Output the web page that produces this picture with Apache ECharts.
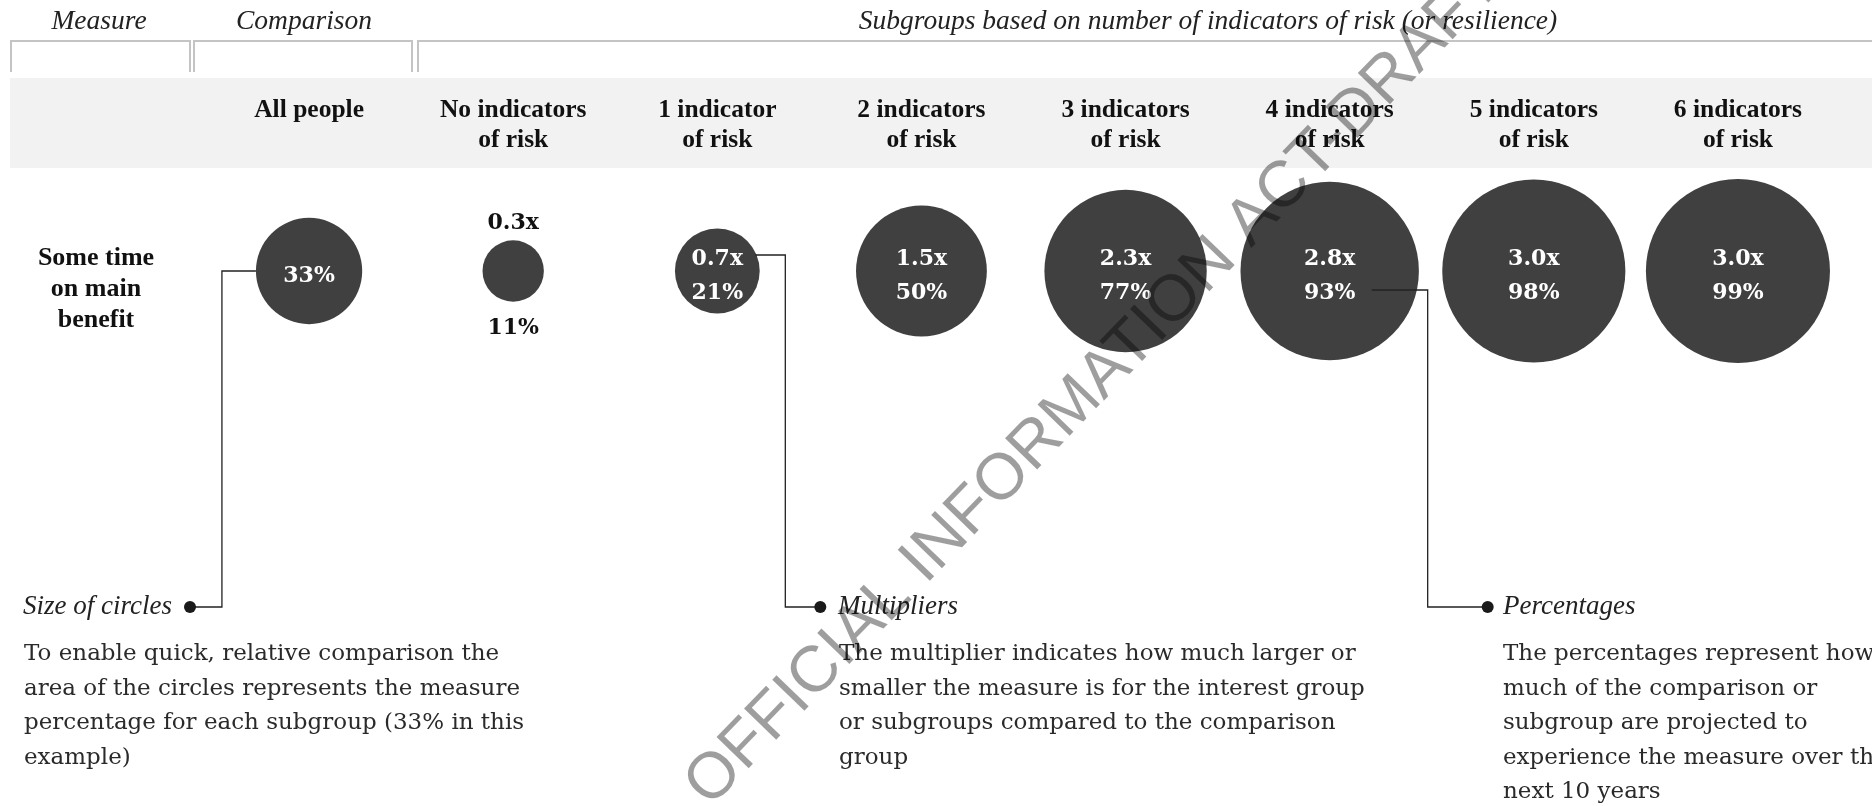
<!DOCTYPE html>
<html>
<head>
<meta charset="utf-8">
<title>Some time on main benefit</title>
<script src="https://cdn.jsdelivr.net/npm/echarts@6/dist/echarts.min.js"></script>
<style>
  html, body { margin: 0; padding: 0; background: #fff; }
  #chart { width: 1872px; height: 806px; }
</style>
</head>
<body>
<div id="chart"></div>
<script>
// comparison group first, then the subgroups
const groups = [
  "All people",
  "No indicators\nof risk",
  "1 indicator\nof risk",
  "2 indicators\nof risk",
  "3 indicators\nof risk",
  "4 indicators\nof risk",
  "5 indicators\nof risk",
  "6 indicators\nof risk"
];
const measures = ["Some time\non main\nbenefit"];
const percents = [33, 11, 21, 50, 77, 93, 98, 99];
const multipliers = [null, 0.3, 0.7, 1.5, 2.3, 2.8, 3.0, 3.0];

const SERIF = "'Liberation Serif', 'Times New Roman', serif";
const BODY = "'DejaVu Serif', serif";
const SLAB = "'DejaVu Serif', serif";
const K = 9.25; // radius per sqrt(percent), circle area ~ percent

const chart = echarts.init(document.getElementById("chart"));

function radius(p) {
  return K * Math.sqrt(p);
}

const option = {
  animation: false,
  backgroundColor: "#fff",
  grid: { left: 207, right: 32, top: 221, height: 100 },
  xAxis: {
    type: "category",
    position: "top",
    data: groups,
    axisLine: { show: false },
    axisTick: { show: false },
    splitLine: { show: false },
    axisLabel: {
      interval: 0,
      margin: 126,
      verticalAlign: "top",
      fontFamily: SERIF,
      fontWeight: "bold",
      fontSize: 25.5,
      lineHeight: 30,
      color: "#111"
    }
  },
  yAxis: {
    type: "category",
    data: measures,
    axisLine: { show: false },
    axisTick: { show: false },
    splitLine: { show: false },
    axisLabel: {
      align: "center",
      verticalAlign: "middle",
      margin: 111,
      formatter: (v) => "{pad| }\n" + v.split("\n").map((s) => "{t|" + s + "}").join("\n"),
      rich: {
        pad: { lineHeight: 37, fontSize: 10 },
        t: {
          fontFamily: SERIF,
          fontWeight: "bold",
          fontSize: 26,
          lineHeight: 31,
          color: "#111",
          align: "center"
        }
      }
    }
  },
  series: [{
    type: "scatter",
    data: percents.map((p, i) => ({
      value: [i, 0],
      label: i === 1 ? { color: "#111", lineHeight: 35 } : undefined
    })),
    symbolSize: (val, params) => 2 * radius(percents[params.dataIndex]),
    itemStyle: { color: "#404040", opacity: 1 },
    emphasis: { disabled: true },
    label: {
      show: true,
      position: "inside",
      offset: [0, 5],
      fontFamily: SLAB,
      fontWeight: "bold",
      fontSize: 22,
      lineHeight: 34,
      color: "#fff",
      formatter: (params) => {
        const i = params.dataIndex;
        const pct = percents[i] + "%";
        if (multipliers[i] == null) return pct;
        const m = multipliers[i].toFixed(1) + "x";
        if (i === 1) return m + "\n\n\n" + pct;
        return m + "\n" + pct;
      }
    }
  }]
};

chart.setOption(option);

// header furniture, notes and connectors
const headerLine = { stroke: "#c4c4c4", lineWidth: 2, fill: null };
const headItalic = { fontFamily: SERIF, fontStyle: "italic", fontSize: 27.5, fill: "#222" };
const italic = { fontFamily: SERIF, fontStyle: "italic", fontSize: 27, fill: "#222" };
const body = { fontFamily: BODY, fontSize: 23, lineHeight: 34.5, fill: "#2a2a2a", verticalAlign: "top" };

function connector(points) {
  return {
    type: "polyline",
    shape: { points: points },
    style: { stroke: "#222", lineWidth: 1.3, fill: null },
    z: 5
  };
}
function dot(x, y) {
  return { type: "circle", shape: { cx: x, cy: y, r: 6 }, style: { fill: "#1a1a1a" }, z: 6 };
}

const c0 = chart.convertToPixel({ seriesIndex: 0 }, [0, 0]);
const c2 = chart.convertToPixel({ seriesIndex: 0 }, [2, 0]);
const c5 = chart.convertToPixel({ seriesIndex: 0 }, [5, 0]);
const noteY = 607;
const r0 = radius(percents[0]);

chart.setOption({
  graphic: [
    { type: "rect", shape: { x: 10, y: 78, width: 1862, height: 90 }, style: { fill: "#f2f2f2" }, z: -10 },
    { type: "polyline", shape: { points: [[11, 72], [11, 41], [190, 41], [190, 72]] }, style: headerLine },
    { type: "polyline", shape: { points: [[194, 72], [194, 41], [412, 41], [412, 72]] }, style: headerLine },
    { type: "polyline", shape: { points: [[418, 72], [418, 41], [1880, 41]] }, style: headerLine },
    { type: "text", x: 99, y: 22, style: Object.assign({ text: "Measure", align: "center", verticalAlign: "middle" }, headItalic) },
    { type: "text", x: 304, y: 22, style: Object.assign({ text: "Comparison", align: "center", verticalAlign: "middle" }, headItalic) },
    { type: "text", x: 1208, y: 22, style: Object.assign({ text: "Subgroups based on number of indicators of risk (or resilience)", align: "center", verticalAlign: "middle" }, headItalic) },

    // size of circles
    connector([[c0[0] - r0, c0[1]], [c0[0] - r0 - 34, c0[1]], [c0[0] - r0 - 34, noteY], [190, noteY]]),
    dot(190, noteY),
    { type: "text", x: 172, y: noteY, style: Object.assign({ text: "Size of circles", align: "right", verticalAlign: "middle" }, italic) },
    { type: "text", x: 24, y: 637, style: Object.assign({ text: "To enable quick, relative comparison the\narea of the circles represents the measure\npercentage for each subgroup (33% in this\nexample)" }, body) },

    // multipliers
    connector([[c2[0] + 38, c2[1] - 16], [c2[0] + 68, c2[1] - 16], [c2[0] + 68, noteY], [c2[0] + 103, noteY]]),
    dot(c2[0] + 103, noteY),
    { type: "text", x: 838, y: noteY, style: Object.assign({ text: "Multipliers", align: "left", verticalAlign: "middle" }, italic) },
    { type: "text", x: 839, y: 637, style: Object.assign({ text: "The multiplier indicates how much larger or\nsmaller the measure is for the interest group\nor subgroups compared to the comparison\ngroup" }, body) },

    // percentages
    connector([[c5[0] + 42, c5[1] + 19], [c5[0] + 98, c5[1] + 19], [c5[0] + 98, noteY], [c5[0] + 158, noteY]]),
    dot(c5[0] + 158, noteY),
    { type: "text", x: 1503, y: noteY, style: Object.assign({ text: "Percentages", align: "left", verticalAlign: "middle" }, italic) },
    { type: "text", x: 1503, y: 637, style: Object.assign({ text: "The percentages represent how\nmuch of the comparison or\nsubgroup are projected to\nexperience the measure over the\nnext 10 years" }, body) },

    // watermark
    {
      type: "text", x: 697, y: 796, rotation: 46 * Math.PI / 180, z: 100,
      style: {
        text: "OFFICIAL INFORMATION ACT-DRAFT",
        fontFamily: "'Liberation Sans', Arial, sans-serif",
        fontSize: 65,
        fill: "rgba(0,0,0,0.38)",
        align: "left",
        verticalAlign: "middle"
      }
    }
  ]
});

window.addEventListener("resize", function () {
  chart.resize();
});
</script>
</body>
</html>
